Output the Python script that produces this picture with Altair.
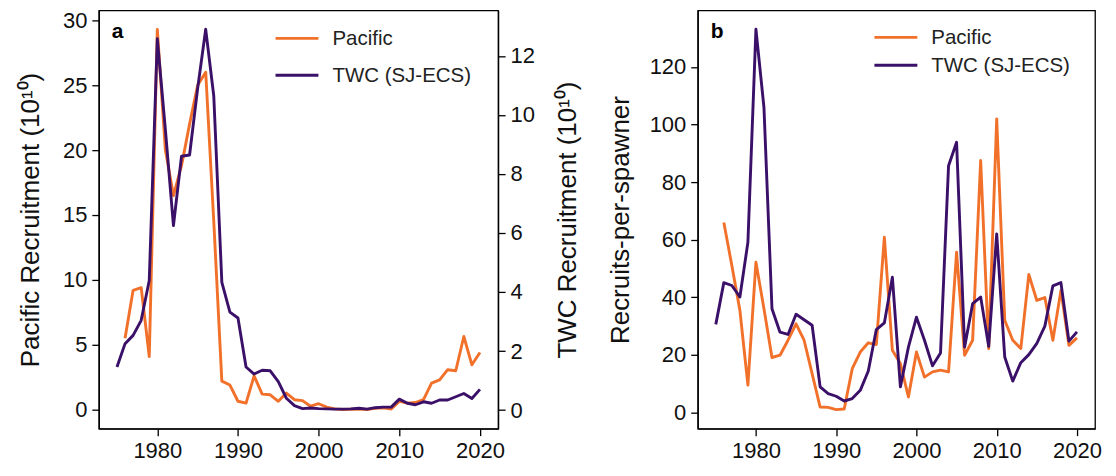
import altair as alt
import pandas as pd

# ---------------- data ----------------
years = list(range(1975, 2021))
pac_years = list(range(1976, 2021))

# Panel a: recruitment (10^10)
pac_recruit = [5.5, 9.2, 9.4, 4.1, 29.3, 20.0, 16.5, 18.8, 22.0, 25.0,
               26.0, 14.5, 2.2, 1.9, 0.65, 0.5, 2.6, 1.2, 1.15, 0.65,
               1.28, 0.77, 0.7, 0.27, 0.46, 0.2, 0.06, 0.02, 0.03, 0.05,
               0.02, 0.1, 0.15, 0.05, 0.64, 0.5, 0.55, 0.77, 2.05, 2.3,
               3.08, 3.0, 5.64, 3.46, 4.41]
twc_recruit = [1.46, 2.25, 2.53, 3.04, 4.39, 12.58, 9.5, 6.25, 8.6, 8.64,
               10.9, 12.9, 10.64, 4.33, 3.32, 3.12, 1.46, 1.22, 1.35, 1.33,
               0.96, 0.4, 0.15, 0.05, 0.07, 0.05, 0.04, 0.03, 0.03, 0.04,
               0.06, 0.03, 0.08, 0.1, 0.1, 0.37, 0.23, 0.18, 0.28, 0.23,
               0.34, 0.34, 0.45, 0.56, 0.39, 0.7]

# Panel b: recruits-per-spawner
pac_rps = [66.0, 51.0, 35.5, 9.5, 52.2, 36.0, 19.1, 19.9, 25.1, 30.8,
           25.1, 13.5, 1.9, 1.8, 1.0, 1.2, 15.2, 21.0, 24.2, 23.6,
           60.9, 21.6, 17.0, 5.4, 21.0, 12.3, 14.1, 14.7, 14.1, 55.7,
           19.9, 25.1, 87.5, 22.2, 101.9, 32.0, 25.1, 22.2, 47.9, 38.9,
           39.9, 25.1, 42.4, 23.3, 25.9]
twc_rps = [30.6, 45.1, 44.1, 40.1, 59.1, 133.1, 105.9, 36.0, 27.9, 27.1,
           34.1, 32.2, 30.3, 8.9, 6.6, 5.65, 4.0, 4.85, 7.7, 14.4,
           28.8, 31.1, 47.0, 8.9, 22.7, 33.1, 25.1, 16.2, 20.7, 85.7,
           93.8, 22.7, 37.8, 40.1, 23.0, 62.0, 19.3, 10.9, 17.3, 20.1,
           24.0, 30.0, 44.0, 45.1, 24.8, 28.0]

series_names = ["Pacific", "TWC (SJ-ECS)"]
x_ticks = [1980, 1990, 2000, 2010, 2020]

ORANGE = "#F2712A"
PURPLE = "#3A1068"
FONT = "Liberation Sans"
TICK_FS = 22
TITLE_FS = 26
LEG_FS = 20.5
LW = 2.9

df_pa = pd.DataFrame({"year": pac_years, "value": pac_recruit, "series": series_names[0]})
df_ta = pd.DataFrame({"year": years, "value": twc_recruit, "series": series_names[1]})
df_pb = pd.DataFrame({"year": pac_years, "value": pac_rps, "series": series_names[0]})
df_tb = pd.DataFrame({"year": years, "value": twc_rps, "series": series_names[1]})

color_scale = alt.Scale(domain=series_names, range=[ORANGE, PURPLE])
no_leg_color = alt.Color("series:N", scale=color_scale, legend=None)

xenc = alt.X("year:Q",
             scale=alt.Scale(domain=[1972.75, 2022.25], nice=False, zero=False),
             axis=alt.Axis(values=x_ticks, format="d", title=None))


def line(df, yenc):
    return alt.Chart(df).mark_line(strokeWidth=LW, strokeJoin="round").encode(
        x=xenc, y=yenc, color=no_leg_color)


def legend_entry(name, ypix):
    d = pd.DataFrame({"series": [name]})
    sym = alt.Chart(d).mark_rule(strokeWidth=LW).encode(
        x=alt.value(177), x2=alt.value(220), y=alt.value(ypix), color=no_leg_color)
    lab = alt.Chart(d).mark_text(font=FONT, fontSize=LEG_FS, align="left",
                                 baseline="middle", color="#222").encode(
        x=alt.value(234), y=alt.value(ypix + 1), text="series:N")
    return [sym, lab]


def panel_label(txt):
    return alt.Chart(pd.DataFrame({"t": [txt]})).mark_text(
        font=FONT, fontSize=21, fontWeight="bold", align="left", baseline="top",
        color="black").encode(x=alt.value(13), y=alt.value(11), text="t:N")


# ---------------- panel a ----------------
y_pac = alt.Y("value:Q",
              scale=alt.Scale(domain=[-1.46, 30.76], nice=False, zero=False),
              axis=alt.Axis(values=[0, 5, 10, 15, 20, 25, 30],
                            title="Pacific Recruitment (10¹⁰)", titlePadding=19))
y_twc = alt.Y("value:Q",
              scale=alt.Scale(domain=[-0.63, 13.54], nice=False, zero=False),
              axis=alt.Axis(values=[0, 2, 4, 6, 8, 10, 12], orient="right",
                            title="TWC Recruitment (10¹⁰)", titleAngle=270,
                            titleBaseline="top", titlePadding=20))

panel_a = alt.layer(
    line(df_pa, y_pac),
    line(df_ta, y_twc),
    *legend_entry(series_names[0], 28),
    *legend_entry(series_names[1], 65),
    panel_label("a"),
).resolve_scale(y="independent").properties(width=400, height=419)

# ---------------- panel b ----------------
y_rps = alt.Y("value:Q",
              scale=alt.Scale(domain=[-5.6, 139.6], nice=False, zero=False),
              axis=alt.Axis(values=[0, 20, 40, 60, 80, 100, 120],
                            title="Recruits-per-spawner", titlePadding=16))
panel_b = alt.layer(
    line(df_pb, y_rps),
    line(df_tb, y_rps),
    *legend_entry(series_names[0], 27),
    *legend_entry(series_names[1], 55),
    panel_label("b"),
).properties(width=398, height=419)

chart = alt.hconcat(panel_a, panel_b, spacing=24).properties(
    padding={"left": 8, "top": 0, "right": 5, "bottom": 5}
).configure_view(stroke="black", strokeWidth=1.3).configure_axis(
    labelFont=FONT, labelFontSize=TICK_FS, labelColor="#111",
    titleFont=FONT, titleFontSize=TITLE_FS, titleFontWeight="normal", titleColor="#111",
    tickSize=7, tickWidth=1.3, tickColor="black", labelPadding=5,
    domainColor="black", domainWidth=1.3, grid=False
)

chart.save("out.html", embed_options={"renderer": "svg", "actions": False})
